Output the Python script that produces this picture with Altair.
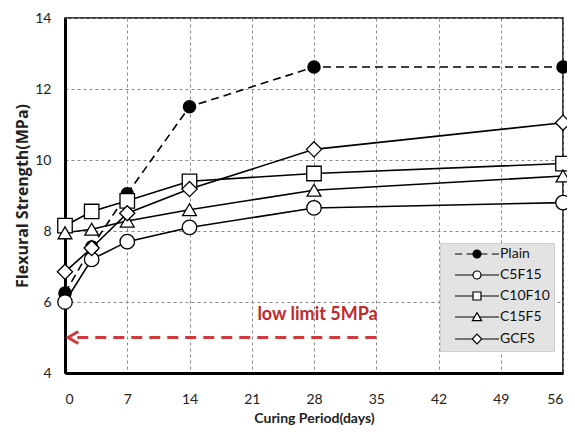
import altair as alt
import pandas as pd

# ---- data ----
days = [0, 3, 7, 14, 28, 56]
series_names = ["Plain", "C5F15", "C10F10", "C15F5", "GCFS"]
plain = [6.25, 7.55, 9.05, 11.5, 12.62, 12.62]
c5f15 = [6.0, 7.2, 7.7, 8.1, 8.65, 8.8]
c10f10 = [8.15, 8.55, 8.85, 9.4, 9.62, 9.9]
c15f5 = [7.95, 8.05, 8.28, 8.6, 9.15, 9.55]
gcfs = [6.85, 7.52, 8.5, 9.18, 10.3, 11.05]
x_ticks = [0, 7, 14, 21, 28, 35, 42, 49, 56]
y_ticks = [4, 6, 8, 10, 12, 14]
limit_value = [5]
limit_from = [35]
limit_to = [0.35]
limit_text = ["low limit 5MPa"]
limit_text_day = [28.4]
limit_text_y = [5.63]

values = [plain, c5f15, c10f10, c15f5, gcfs]
rows = []
for name, vals in zip(series_names, values):
    for d, v in zip(days, vals):
        rows.append({"series": name, "day": d, "value": v})
df = pd.DataFrame(rows)

CAL = "Lato, sans-serif"
RED = "#d2393c"

x_enc = alt.X("day:Q", scale=alt.Scale(domain=[0, 56], nice=False),
              axis=alt.Axis(values=x_ticks, title="Curing Period(days)"))
y_enc = alt.Y("value:Q", scale=alt.Scale(domain=[4, 14], nice=False),
              axis=alt.Axis(values=y_ticks, title="Flexural Strength(MPa)"))

base = alt.Chart(df)

plain_line = base.transform_filter(alt.datum.series == "Plain").mark_line(
    color="black", strokeWidth=1.6, strokeDash=[8, 5]
).encode(x=x_enc, y=y_enc)
other_lines = base.transform_filter(alt.datum.series != "Plain").mark_line(
    color="black", strokeWidth=1.6
).encode(x="day:Q", y="value:Q", detail="series:N")

marker_styles = {
    "Plain": dict(shape="circle", fill="black", size=150),
    "C5F15": dict(shape="circle", fill="white", size=210),
    "C10F10": dict(shape="square", fill="white", size=210),
    "C15F5": dict(shape="triangle-up", fill="white", size=190),
    "GCFS": dict(shape="diamond", fill="white", size=230),
}
marker_layers = []
for name in series_names:
    st = marker_styles[name]
    marker_layers.append(
        base.transform_filter(alt.datum.series == name).mark_point(
            shape=st["shape"], filled=True, fill=st["fill"], stroke="black",
            strokeWidth=1.3, size=st["size"], opacity=1
        ).encode(x="day:Q", y="value:Q")
    )

# legend-only layer (no visible marks): symbol paths draw a line with the marker on it
solid = "M1,0 L5.5,0 M7.5,0 L12,0 "
circ = "M7.5,0 A1,1 0 1,1 5.5,0 A1,1 0 1,1 7.5,0 Z"
legend_paths = [
    "M1,0 L2.8,0 M3.9,0 L5.5,0 M7.5,0 L9.1,0 M10.2,0 L12,0 " + circ,
    solid + circ,
    solid + "M5.5,-1 L7.5,-1 L7.5,1 L5.5,1 Z",
    "M1,0 L5.95,0 M7.05,0 L12,0 M6.5,-1.1 L7.65,0.9 L5.35,0.9 Z",
    "M1,0 L5.3,0 M7.7,0 L12,0 M6.5,-1.2 L7.7,0 L6.5,1.2 L5.3,0 Z",
]
leg = alt.Legend(title=None, orient="none", legendX=375, legendY=225, padding=4,
                 fillColor="#e3e3e3", strokeColor="#cfcfcf",
                 labelFont=CAL, labelFontSize=14, labelColor="#111111",
                 symbolStrokeWidth=1.2, symbolSize=64,
                 labelOffset=42, rowPadding=7)
legend_layer = base.transform_filter("false").mark_point(
    filled=True, strokeWidth=1.2, size=64, opacity=1
).encode(
    x="day:Q", y="value:Q",
    shape=alt.Shape("series:N", scale=alt.Scale(domain=series_names, range=legend_paths),
                    legend=leg),
    fill=alt.Fill("series:N", scale=alt.Scale(domain=series_names,
                                              range=["black", "white", "white", "white", "white"]),
                  legend=leg),
    stroke=alt.Stroke("series:N", scale=alt.Scale(domain=series_names,
                                                  range=["black"] * 5),
                      legend=leg),
)

limit_df = pd.DataFrame({"y": limit_value, "x1": limit_from, "x2": limit_to})
arrow_line = alt.Chart(limit_df).mark_rule(color=RED, strokeWidth=3, strokeDash=[11, 7]).encode(
    x="x1:Q", x2="x2:Q", y="y:Q")
arrow_head = alt.Chart(limit_df).mark_point(
    shape="M1.7,-1 L0,0 L1.7,1", filled=False, color=RED, strokeWidth=3, size=144, opacity=1
).encode(x="x2:Q", y="y:Q")

text_df = pd.DataFrame({"t": limit_text, "x": limit_text_day, "y": limit_text_y})
limit_label = alt.Chart(text_df).mark_text(
    font=CAL, fontSize=18, fontWeight="bold", color="#c0282d", align="center", baseline="middle"
).encode(x="x:Q", y="y:Q", text="t:N")

chart = alt.layer(
    plain_line, other_lines, arrow_line, arrow_head, limit_label, *marker_layers, legend_layer
).properties(
    width=498, height=355,
    autosize=alt.AutoSizeParams(type="none"),
    padding={"left": 57, "top": 10, "right": 4, "bottom": 57},
).configure_view(
    stroke="black", strokeWidth=1.5
).configure_axis(
    grid=True, gridColor="#888888", gridDash=[3, 3], gridWidth=1,
    domainColor="black", domainWidth=3, ticks=False,
    labelFont=CAL, labelFontSize=14, labelColor="#222222",
    titleFontWeight="bold", titleColor="#222222",
).configure_axisX(
    labelPadding=19, titleFont=CAL, titleFontSize=14, titlePadding=5,
).configure_axisY(
    labelPadding=14, titleFont="Open Sans", titleFontSize=16, titlePadding=4,
)

chart.save("out.html", embed_options={"renderer": "svg", "actions": False})
